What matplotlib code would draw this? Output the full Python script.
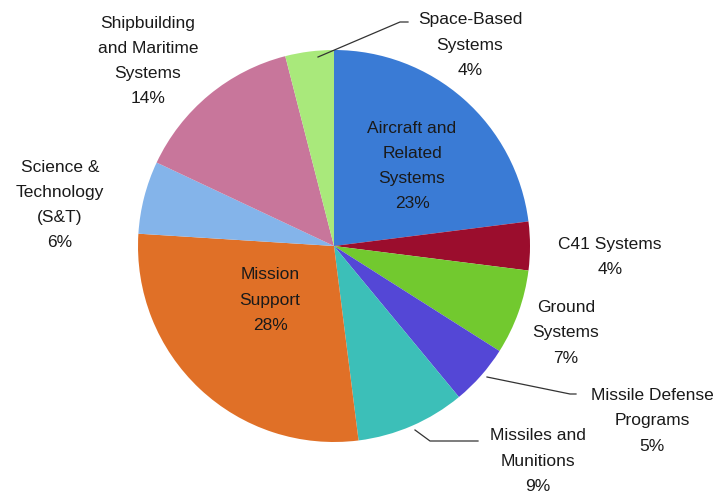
import matplotlib
matplotlib.use("Agg")
import matplotlib.pyplot as plt

categories = ["Aircraft and\nRelated\nSystems", "C41 Systems", "Ground\nSystems",
              "Missile Defense\nPrograms", "Missiles and\nMunitions", "Mission\nSupport",
              "Science &\nTechnology\n(S&T)", "Shipbuilding\nand Maritime\nSystems",
              "Space-Based\nSystems"]
values = [23, 4, 7, 5, 9, 28, 6, 14, 4]
colors = ["#3a7bd5", "#9b0d2d", "#72c92f", "#5447d6", "#3cbfb8", "#e07027",
          "#84b4ea", "#c8769b", "#a9e97b"]

W, H = 720, 499
fig = plt.figure(figsize=(7.2, 4.99), dpi=100)
ax = fig.add_axes([0, 0, 1, 1])

cx, cy, r = 334, H - 246, 196
ax.pie(values, colors=colors, startangle=90, counterclock=False,
       center=(cx, cy), radius=r, frame=True,
       wedgeprops=dict(linewidth=0))
ax.set_xlim(0, W)
ax.set_ylim(0, H)
ax.set_aspect("equal")
ax.axis("off")

# label positions in pixel coords (x, y from top)
label_pos = [(412, 166), (610, 257), (566, 333), (652, 421), (538, 461),
             (270, 300), (60, 205), (148, 61), (470, 45)]
font = dict(family=["Liberation Sans", "DejaVu Sans"], fontsize=12.5, color="#1a1a1a",
            ha="center", va="center", linespacing=1.85)
for cat, v, (x, y) in zip(categories, values, label_pos):
    ax.text(x, H - y, f"{cat}\n{v}%", **font)

# leader lines
lc = dict(color="#333333", lw=0.9)
ax.plot([318, 400, 408], [H - 57, H - 22, H - 22], **lc)
ax.plot([487, 570, 576], [H - 377, H - 394, H - 394], **lc)
ax.plot([415, 430, 478], [H - 430, H - 441, H - 441], **lc)

fig.savefig("out.png", dpi=100)
